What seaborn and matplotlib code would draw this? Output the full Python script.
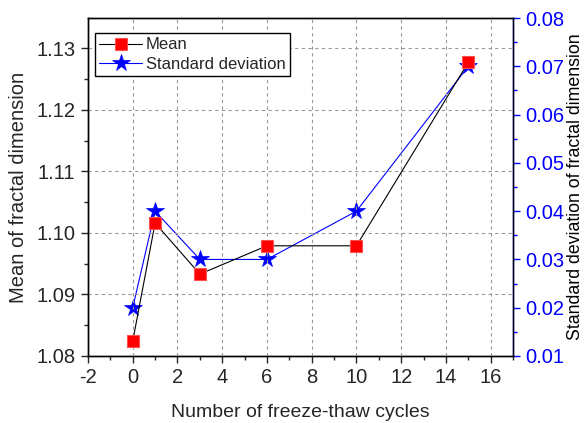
import matplotlib
matplotlib.use("Agg")
import matplotlib.pyplot as plt
from matplotlib.ticker import MultipleLocator
from matplotlib.lines import Line2D
import seaborn as sns
import pandas as pd

cycles = [0, 1, 3, 6, 10, 15]
mean_fd = [1.0824, 1.1016, 1.0933, 1.0979, 1.0979, 1.1277]
std_fd = [0.020, 0.040, 0.030, 0.030, 0.040, 0.070]

x_ticks = [-2, 0, 2, 4, 6, 8, 10, 12, 14, 16]
left_ticks = [1.08, 1.09, 1.10, 1.11, 1.12, 1.13]
right_ticks = [0.01, 0.02, 0.03, 0.04, 0.05, 0.06, 0.07, 0.08]

df = pd.DataFrame({"cycles": cycles, "mean": mean_fd, "std": std_fd})

sns.set_style("ticks")
plt.rcParams["font.family"] = ["Liberation Sans", "DejaVu Sans"]

fig = plt.figure(figsize=(5.85, 4.23), dpi=100)
ax = fig.add_axes([0.1504, 0.1584, 0.7266, 0.799])
ax2 = ax.twinx()

sq_style = dict(marker="s", markersize=9, markerfacecolor="red",
                markeredgecolor="#ff5050", markeredgewidth=0.8)
star_style = dict(marker="*", markersize=13, markerfacecolor="blue",
                  markeredgecolor="blue", markeredgewidth=0.5)

sns.lineplot(data=df, x="cycles", y="mean", ax=ax, color="black", lw=0.8,
             zorder=3, **sq_style)
sns.lineplot(data=df, x="cycles", y="std", ax=ax2, color="blue", lw=0.8,
             zorder=3, **star_style)

ax.set_xlim(-2, 17)
ax.set_ylim(1.08, 1.1349)
ax2.set_ylim(0.01, 0.08)

ax.set_xticks(x_ticks)
ax.set_xticklabels([str(t) for t in x_ticks])
ax.xaxis.set_minor_locator(MultipleLocator(1))
ax.set_yticks(left_ticks)
ax.set_yticklabels([f"{t:.2f}" for t in left_ticks])
ax.yaxis.set_minor_locator(MultipleLocator(0.005))
ax2.set_yticks(right_ticks)
ax2.set_yticklabels([f"{t:.2f}" for t in right_ticks])
ax2.yaxis.set_minor_locator(MultipleLocator(0.005))

ax.grid(True, which="major", color="#999999", ls=(0, (3, 3)), lw=0.8)
ax.set_axisbelow(True)

for a in (ax, ax2):
    for s in a.spines.values():
        s.set_linewidth(1.0)
        s.set_color("black")
    a.tick_params(which="major", length=5, width=1, direction="out",
                  labelsize=14.5, pad=4)
    a.tick_params(which="minor", length=3, width=1, direction="out")
ax2.spines["right"].set_color("blue")
ax2.tick_params(axis="y", which="both", colors="blue", labelcolor="blue")

ax.set_xlabel("Number of freeze-thaw cycles", fontsize=14, labelpad=12)
ax.set_ylabel("Mean of fractal dimension", fontsize=14.5, labelpad=6)
ax2.set_ylabel("Standard deviation of fractal dimension", fontsize=12.8,
               color="black", labelpad=2)

handles = [
    Line2D([], [], color="black", lw=0.8, **sq_style),
    Line2D([], [], color="blue", lw=0.8, **star_style),
]
leg = ax.legend(handles, ["Mean", "Standard deviation"], loc="upper left",
                bbox_to_anchor=(0.016, 0.955), fontsize=12, frameon=True,
                fancybox=False, edgecolor="black", framealpha=1,
                handlelength=2.6, handletextpad=0.2, borderpad=0.25,
                labelspacing=0.25, borderaxespad=0)
leg.get_frame().set_linewidth(1.0)
if ax2.get_legend() is not None:
    ax2.get_legend().remove()
ax.set_zorder(ax2.get_zorder() + 1)
ax.patch.set_visible(False)

fig.savefig("out.png", dpi=100)
